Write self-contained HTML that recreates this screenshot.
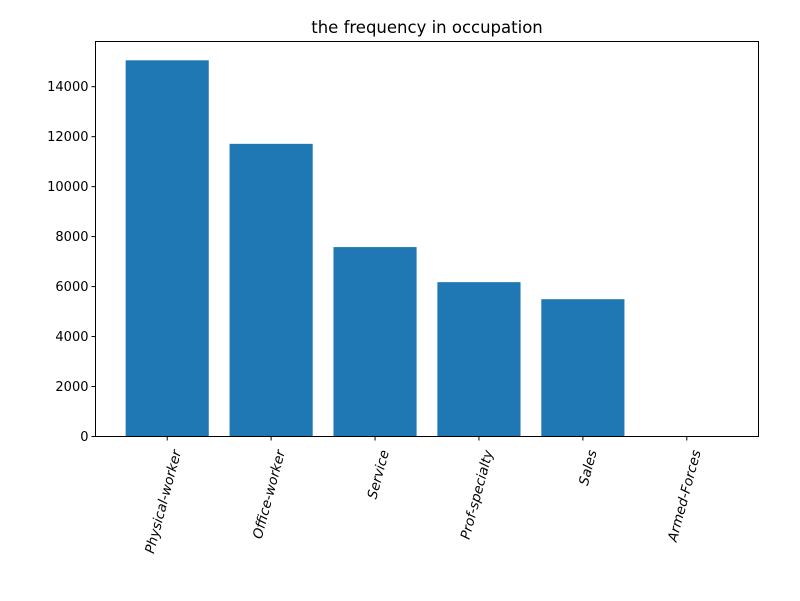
<!DOCTYPE html>
<html><head><meta charset="utf-8"><style>
html,body{margin:0;padding:0;background:#fff;}
svg text{font-family:"DejaVu Sans",sans-serif;fill:#000;}
</style></head><body>
<svg id="chart" width="800" height="596">
<text x="427" y="33" font-size="16.5" text-anchor="middle">the frequency in occupation</text>
<g id="bars"></g><g id="yticks"></g><g id="xticks"></g>
<rect x="95.5" y="41.5" width="663" height="395" fill="none" stroke="#000" stroke-width="1"/>
</svg>
<script>
const categories = ["Physical-worker","Office-worker","Service","Prof-specialty","Sales","Armed-Forces"];
const values = [15056, 11713, 7581, 6177, 5495, 9];
const yTicks = [0,2000,4000,6000,8000,10000,12000,14000];
const L=95.5,R=758.5,T=41.5,B=436.5;
const ymax=Math.max(...values)*1.05;
const xmin=-0.69,xmax=categories.length-1+0.69;
const sx=v=>L+(v-xmin)/(xmax-xmin)*(R-L);
const sy=v=>B-v/ymax*(B-T);
const NS="http://www.w3.org/2000/svg";
const bars=document.getElementById('bars'),yt=document.getElementById('yticks'),xt=document.getElementById('xticks');
values.forEach((v,i)=>{
 const r=document.createElementNS(NS,'rect');
 r.setAttribute('x',sx(i-0.4));r.setAttribute('width',sx(0.4)-sx(-0.4));
 r.setAttribute('y',sy(v));r.setAttribute('height',B-sy(v));r.setAttribute('fill','#1f77b4');
 
 
 bars.appendChild(r);
});
yTicks.forEach(t=>{
 const y=sy(t);
 const l=document.createElementNS(NS,'line');
 l.setAttribute('x1',L-4);l.setAttribute('x2',L);l.setAttribute('y1',y);l.setAttribute('y2',y);l.setAttribute('stroke','#000');
 
 
 yt.appendChild(l);
 const tx=document.createElementNS(NS,'text');
 tx.setAttribute('x',L-7);tx.setAttribute('y',y+4.5);tx.setAttribute('font-size','13');tx.setAttribute('text-anchor','end');
 tx.textContent=t;
 
 
 yt.appendChild(tx);
});
categories.forEach((c,i)=>{
 const x=sx(i);
 const l=document.createElementNS(NS,'line');
 l.setAttribute('x1',x);l.setAttribute('x2',x);l.setAttribute('y1',B);l.setAttribute('y2',B+4);l.setAttribute('stroke','#000');
 
 
 xt.appendChild(l);
 const tx=document.createElementNS(NS,'text');
 tx.setAttribute('transform','translate('+(x+14)+','+(B+15)+') rotate(-75)');
 tx.setAttribute('font-size','13.5');tx.setAttribute('text-anchor','end');tx.setAttribute('font-style','italic');
 tx.textContent=c;
 
 
 xt.appendChild(tx);
});
</script>
</body></html>
